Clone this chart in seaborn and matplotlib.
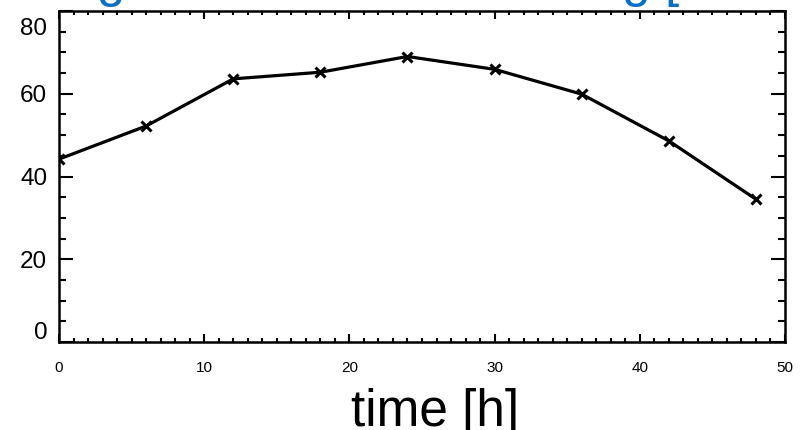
import matplotlib
matplotlib.use("Agg")
import matplotlib.pyplot as plt
import matplotlib.transforms as mtransforms
import seaborn as sns
import pandas as pd
from matplotlib.ticker import MultipleLocator

# data
time_h = [0, 6, 12, 18, 24, 30, 36, 42, 48]
values = [44.2, 52.2, 63.6, 65.2, 69.0, 65.9, 59.9, 48.6, 34.5]
x_ticks = [0, 10, 20, 30, 40, 50]
y_ticks = [0, 20, 40, 60, 80]
x_label = "time [h]"
title_text = "Drug release of coated drug [mmol]"

sns.set_style("ticks")
plt.rcParams["font.family"] = ["Liberation Sans", "DejaVu Sans"]
plt.rcParams["text.color"] = "black"
plt.rcParams["axes.labelcolor"] = "black"
plt.rcParams["xtick.color"] = "black"
plt.rcParams["ytick.color"] = "black"

df = pd.DataFrame({"time": time_h, "value": values})

fig = plt.figure(figsize=(8.04, 4.30), dpi=100)
ax = fig.add_axes([59 / 804, 88 / 430, 726 / 804, 331 / 430])

sns.lineplot(data=df, x="time", y="value", ax=ax, color="black",
             linewidth=2.3, marker="x", markersize=7.5, markeredgewidth=2.2,
             markeredgecolor="black")

ax.set_xlim(0, 50)
ax.set_ylim(0, 80)
ax.set_xticks(x_ticks)
ax.set_yticks(y_ticks)
ax.xaxis.set_minor_locator(MultipleLocator(1))
ax.yaxis.set_minor_locator(MultipleLocator(5))

for s in ax.spines.values():
    s.set_visible(True)
    s.set_linewidth(1.8)
    s.set_color("black")

ax.tick_params(axis="x", which="major", direction="in", length=6, width=1.5,
               top=True, bottom=True, labelsize=11, pad=14, color="black",
               labelcolor="black")
ax.tick_params(axis="x", which="minor", direction="in", length=3, width=1.5,
               top=True, bottom=True, color="black")
ax.tick_params(axis="y", which="major", direction="in", length=10, width=1.5,
               left=True, right=True, labelsize=17.5, pad=8.5, color="black",
               labelcolor="black")
ax.tick_params(axis="y", which="minor", direction="in", length=5, width=1.5,
               left=True, right=True, color="black")

ax.get_yticklabels()  # force label text formatting
for tick in ax.yaxis.get_major_ticks():
    lab = tick.label1
    if lab.get_text() == "80":
        lab.set_va("top")
        lab.set_transform(lab.get_transform() +
                          mtransforms.ScaledTranslation(0, -7 / 100, fig.dpi_scale_trans))
    elif lab.get_text() == "0":
        lab.set_va("bottom")
        lab.set_transform(lab.get_transform() +
                          mtransforms.ScaledTranslation(0, -2 / 100, fig.dpi_scale_trans))

ax.set_ylabel("")
ax.set_xlabel(x_label, fontsize=37, color="black")
ax.xaxis.label.set_va("baseline")
ax.xaxis.set_label_coords((435 - 59) / 726, (342 - 426) / 331)

fig.text(14 / 804, 1 + 4 / 430, title_text, fontsize=37, color="#0A70C4",
         ha="left", va="baseline")

fig.savefig("out.png", dpi=100)
